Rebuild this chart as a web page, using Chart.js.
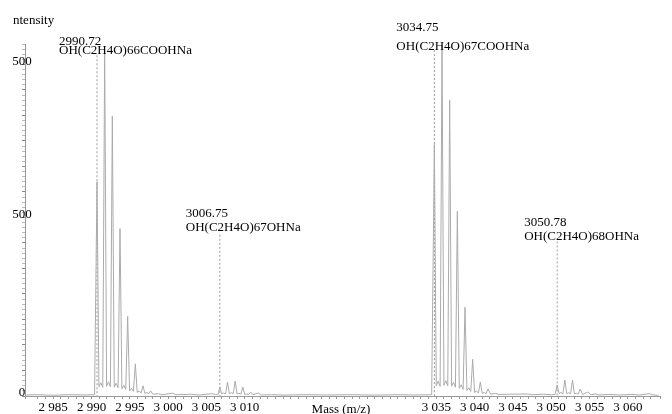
<!DOCTYPE html>
<html>
<head>
<meta charset="utf-8">
<script src="https://cdn.jsdelivr.net/npm/chart.js@4.4.1/dist/chart.umd.min.js"></script>
<style>
    html, body { margin: 0; padding: 0; background: #fff; }
    #wrap { width: 672px; height: 414px; }
</style>
</head>
<body>
<div id="wrap"><canvas id="spectrum"></canvas></div>
<script>
// Profile trace (mass, intensity)
const traceMass = [
    2981.3, 2983.0, 2985.0, 2987.0, 2989.0, 2990.4,
    2990.72, 2990.97, 2991.22, 2991.47,
    2991.72, 2991.97, 2992.22, 2992.47,
    2992.72, 2992.97, 2993.22, 2993.47,
    2993.72, 2993.97, 2994.22, 2994.47,
    2994.72, 2994.97, 2995.22, 2995.47,
    2995.72, 2995.97, 2996.22, 2996.47,
    2996.72, 2996.97, 2997.22, 2997.47,
    2997.72, 2998.0, 2998.72, 2999.2,
    3000.6, 3001.0, 3003.1, 3004.0, 3005.7, 3006.2, 3006.5,
    3006.75, 3007.0, 3007.25, 3007.5,
    3007.75, 3008.0, 3008.25, 3008.5,
    3008.75, 3009.0, 3009.25, 3009.5,
    3009.75, 3010.0, 3010.25, 3010.5,
    3010.75, 3011.1, 3011.75, 3012.2,
    3013.5, 3015, 3018, 3021, 3024, 3027, 3030, 3032, 3034.4,
    3034.75, 3035.0, 3035.25, 3035.5,
    3035.75, 3036.0, 3036.25, 3036.5,
    3036.75, 3037.0, 3037.25, 3037.5,
    3037.75, 3038.0, 3038.25, 3038.5,
    3038.75, 3039.0, 3039.25, 3039.5,
    3039.75, 3040.0, 3040.25, 3040.5,
    3040.75, 3041.0, 3041.25, 3041.5,
    3041.75, 3042.1, 3042.75, 3043.2,
    3044.5, 3046.9, 3047.5, 3049.0, 3050.0, 3050.5,
    3050.78, 3051.03, 3051.28, 3051.53,
    3051.78, 3052.03, 3052.28, 3052.53,
    3052.78, 3053.03, 3053.28, 3053.53,
    3053.78, 3054.1, 3054.78, 3055.2,
    3055.78, 3056.2, 3057.5, 3059.0, 3060.5, 3061.5, 3062.8, 3063.3, 3064.0
];
const traceIntensity = [
    20, 25, 15, 25, 20, 25,
    4200, 180, 260, 170,
    6800, 190, 280, 180,
    5490, 170, 250, 160,
    3280, 140, 210, 130,
    1560, 100, 150, 90,
    630, 70, 100, 60,
    200, 50, 70, 45,
    100, 35, 45, 25,
    55, 25, 35, 20, 45, 30, 25,
    176, 40, 60, 40,
    274, 45, 65, 45,
    293, 40, 55, 35,
    176, 30, 40, 30,
    78, 25, 59, 20,
    25, 18, 25, 20, 25, 18, 25, 20, 25,
    4930, 200, 290, 190,
    6880, 210, 300, 200,
    5800, 190, 270, 170,
    3620, 150, 220, 130,
    1740, 110, 160, 90,
    720, 70, 100, 60,
    274, 50, 70, 45,
    137, 35, 50, 30,
    35, 40, 25, 35, 25, 30,
    215, 45, 70, 45,
    313, 45, 65, 45,
    313, 40, 55, 35,
    137, 30, 78, 25,
    40, 20, 30, 20, 30, 20, 45, 20, 15
];

// Annotated peaks
const peakMass = [2990.72, 3006.75, 3034.75, 3050.78];
const peakMarkTop = [6680, 3160, 6780, 3030];
const peakValue = ['2990.72', '3006.75', '3034.75', '3050.78'];
const peakFormula = ['OH(C2H4O)66COOHNa', 'OH(C2H4O)67OHNa', 'OH(C2H4O)67COOHNa', 'OH(C2H4O)68OHNa'];

// Axis labels
const xTickValues = [2985, 2990, 2995, 3000, 3005, 3010, 3035, 3040, 3045, 3050, 3055, 3060];
const xTickLabels = ['2 985', '2 990', '2 995', '3 000', '3 005', '3 010', '3 035', '3 040', '3 045', '3 050', '3 055', '3 060'];
const yTickValues = [0, 3500, 6500];
const yTickLabels = ['0', '500', '500'];

const FONT = '"Liberation Serif", "Times New Roman", serif';
Chart.defaults.font.family = FONT;
Chart.defaults.font.size = 13;
Chart.defaults.color = '#000';

const traceData = traceMass.map((m, i) => ({ x: m, y: traceIntensity[i] }));
const markData = [];
peakMass.forEach((m, i) => {
    markData.push({ x: m, y: peakMarkTop[i] }, { x: m, y: 0 }, { x: m, y: null });
});

// label placement: offset from the dashed line, text baselines
const labelPos = [
    { dx: -38, b1: 45, b2: 54 },
    { dx: -34, b1: 217, b2: 231 },
    { dx: -38, b1: 31, b2: 50 },
    { dx: -33, b1: 226, b2: 240 }
];

const textPlugin = {
    id: 'texts',
    afterDraw(chart) {
        const { ctx, scales: { x, y } } = chart;
        ctx.save();
        ctx.fillStyle = '#000';
        ctx.font = '13px ' + FONT;
        ctx.textBaseline = 'alphabetic';
        ctx.textAlign = 'left';
        peakMass.forEach((m, i) => {
            const px = x.getPixelForValue(m) + labelPos[i].dx;
            ctx.fillText(peakValue[i], px, labelPos[i].b1);
            ctx.fillText(peakFormula[i], px, labelPos[i].b2);
        });
        ctx.fillText('ntensity', 13, 24);
        ctx.textAlign = 'center';
        ctx.fillText('Mass (m/z)', 341, 413);
        ctx.textBaseline = 'middle';
        yTickValues.forEach((v, i) => {
            ctx.fillText(yTickLabels[i], 22, y.getPixelForValue(v) - 3);
        });
        ctx.restore();
    }
};

new Chart(document.getElementById('spectrum'), {
    type: 'line',
    data: {
        datasets: [
            {
                data: traceData,
                borderColor: '#ababab',
                borderWidth: 1,
                pointRadius: 0,
                tension: 0,
                fill: false
            },
            {
                data: markData,
                borderColor: '#9a9a9a',
                borderWidth: 1,
                borderDash: [2, 2],
                pointRadius: 0,
                spanGaps: false,
                fill: false
            }
        ]
    },
    options: {
        responsive: true,
        maintainAspectRatio: false,
        animation: false,
        devicePixelRatio: 1,
        layout: { padding: { left: 22, right: 12, top: 44, bottom: -2.6 } },
        plugins: { legend: { display: false }, tooltip: { enabled: false } },
        scales: {
            x: {
                type: 'linear',
                min: 2981.32,
                max: 3064.2,
                border: { color: '#999' },
                grid: { drawOnChartArea: false, tickLength: 3, tickColor: '#999' },
                ticks: {
                    stepSize: 1,
                    autoSkip: false,
                    maxRotation: 0,
                    padding: 1,
                    font: { size: 13, lineHeight: 1.2 },
                    callback: (value) => {
                        const i = xTickValues.findIndex(t => Math.abs(t - value) < 1e-6);
                        return i >= 0 ? xTickLabels[i] : '';
                    }
                }
            },
            y: {
                min: 0,
                max: 6900,
                border: { color: '#999' },
                grid: {
                    drawOnChartArea: false,
                    tickLength: 3,
                    tickColor: (c) => (c.tick && c.tick.value % 500 === 0) ? '#888' : '#bbb'
                },
                ticks: { stepSize: 100, display: false }
            }
        }
    },
    plugins: [textPlugin]
});
</script>
</body>
</html>
